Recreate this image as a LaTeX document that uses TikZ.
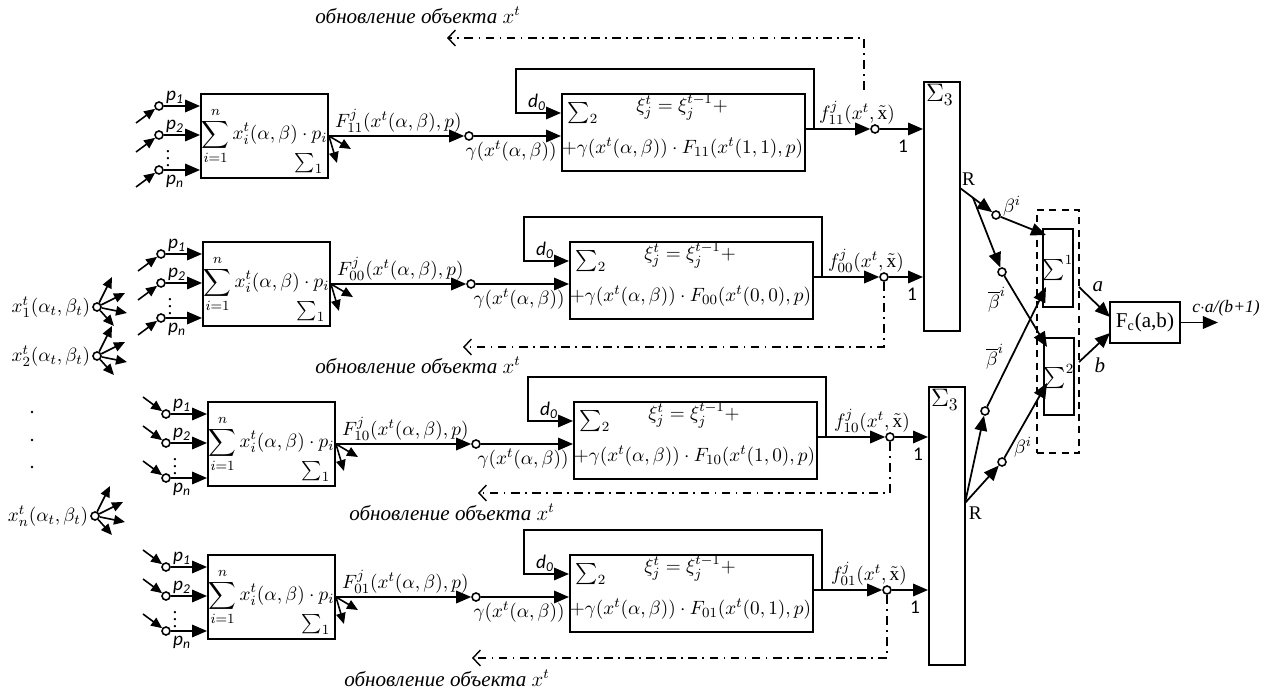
\documentclass[tikz,border=0pt]{standalone}
\usepackage{amsmath}
\usepackage{fontspec}
\setmainfont{Liberation Serif}
\newfontfamily\calib{Carlito}
\usetikzlibrary{arrows.meta, positioning, calc}

\tikzset{
  blk/.style={draw, line width=1.1pt, inner sep=0pt},
  jn/.style={circle, draw, fill=white, line width=0.9pt, minimum size=1.6mm, inner sep=0pt},
  arr/.style={-{Triangle[length=3mm,width=2.5mm]}, line width=1pt},
  sarr/.style={-{Triangle[length=2.2mm,width=1.9mm]}, line width=0.9pt},
  upd/.style={line width=0.8pt, dash pattern=on 5pt off 3pt on 1pt off 3pt, -{Straight Barb[length=1.5mm,width=3.2mm]}},
  grp/.style={draw, line width=1pt, dash pattern=on 4pt off 3pt, inner sep=0pt},
  note/.style={font=\large\itshape, inner sep=1pt},
}

\begin{document}
\begin{tikzpicture}[x=0.02cm, y=-0.02cm, font=\fontsize{11}{13}\selectfont]
  \useasboundingbox (0,0) rectangle (1272,689);

  % --- Sigma_3 collectors ---
  \node[blk, minimum width=0.72cm, minimum height=4.98cm] (s3a) at (942,206.5) {};
  \node[blk, minimum width=0.72cm, minimum height=5.56cm] (s3b) at (947,526) {};
  \node[anchor=north west, inner sep=1.5pt] (s3al) at (s3a.north west) {\Large$\Sigma_3$};
  \node[anchor=north west, inner sep=1.5pt] (s3bl) at (s3b.north west) {\Large$\Sigma_3$};

  % --- Sources x_k^t ---
  \foreach \k/\sub/\xx/\yy in {1/1/97/307, 2/2/97/356, 3/n/95/516} {
    \node[jn] (src\k) at (\xx,\yy) {};
    \node[anchor=east, inner sep=1pt] (srcl\k) at (src\k.west) {$x_{\sub}^{t}(\alpha_t,\beta_t)$};
    \foreach \ex/\ey in {15/-30, 28/-14, 30/6, 17/19}
      \draw[sarr] (src\k) -- ++(\ex,\ey);
  }
  \foreach \yy in {412,440,467}
    \fill (32,\yy) circle (0.8pt);

  % --- Four channels ---
  \foreach \r/\xa/\xb/\ty/\xc/\ix/\cc/\sd/\tgt/\dd/\dx/\tx/\tyy in {
      1/201/561/93/875/11/{1,1}/1/s3a/38/447/418/15,
      2/203/569/241/884/00/{0,0}/1/s3a/347/463/418/365,
      3/208/573/401/890/10/{1,0}/-1/s3b/493/478/452/512,
      4/208/569/554/887/01/{0,1}/-1/s3b/658/472/447/678} {
    % Sigma_1 block
    \node[blk, minimum width=2.54cm, minimum height=1.68cm] (sa\r) at (\xa+63.5,\ty+43)
      {$\displaystyle\sum\limits_{i=1}^{n} x_i^t(\alpha,\beta)\cdot p_i$};
    \node[anchor=south east, inner sep=3pt] (sl\r) at (sa\r.south east) {$\sum\nolimits_1$};
    \foreach \q/\qq/\ps/\ly in {1/13/1/-9, 2/42/2/-9, 3/77/n/11} {
      \node[jn] (in\r\q) at (\xa-42,\ty+\qq) {};
      \draw[arr] (in\r\q) -- (in\r\q -| sa\r.west);
      \draw[sarr] (in\r\q) ++(-23,{17*\sd}) -- (in\r\q);
      \node[inner sep=0pt] (pl\r\q) at ($(in\r\q)+(16,\ly)$) {\calib\itshape p\textsubscript{\ps}};
    }
    \node[inner sep=0pt] (vd\r) at (\xa-33,\ty+60) {$\vdots$};
    \draw[sarr] (sa\r.east) -- ++(22,13);
    \draw[sarr] (sa\r.east) -- ++(8,27);
    % to Sigma_2
    \node[jn] (m\r) at (\xa+268,\ty+43) {};
    \draw[arr] (sa\r.east) -- (m\r);
    \node[anchor=south west, inner sep=1pt] (fl\r) at ($(sa\r.east)+(4,-1)$) {$F_{\ix}^{j}(x^t(\alpha,\beta),p)$};
    \node[blk, minimum width=4.86cm, minimum height=1.54cm, anchor=north west] (sb\r) at (\xb,\ty) {};
    \draw[arr] (m\r) -- (m\r -| sb\r.west) node[anchor=north east, inner sep=2pt] (gl\r) {$\gamma(x^t(\alpha,\beta))$};
    \node (sg\r) at (\xb+22,\ty+20) {\large$\sum\nolimits_2$};
    \node (xi\r) at (\xb+121,\ty+14) {$\xi_j^t=\xi_j^{t-1}+$};
    \node (gm\r) at (\xb+121.5,\ty+55) {$+\gamma(x^t(\alpha,\beta))\cdot F_{\ix}(x^t(\cc),p)$};
    % feedback d_0
    \coordinate (o\r) at (\xb+243,\ty+36);
    \coordinate (fb\r) at (\xb+253,\ty+36);
    \coordinate (lt\r) at (\xb-45,\ty-24);
    \coordinate (d\r) at (\xb,\ty+20);
    \draw[arr] (fb\r) |- (lt\r) |- (d\r);
    \node[inner sep=1pt] (dl\r) at (\xb-24,\ty+9) {\calib\itshape d\textsubscript{0}};
    % output to Sigma_3
    \node[jn] (c\r) at (\xc,\ty+36) {};
    \draw[arr] (o\r) -- (c\r);
    \draw[arr] (c\r) -- (c\r -| \tgt.west);
    \node[anchor=south, inner sep=1pt] (ol\r) at (\xc-18,\ty+34) {$f_{\ix}^{j}(x^t,\tilde{\mathrm{x}})$};
    \node[inner sep=0pt] (one\r) at (\xc+28,\ty+53) {\calib 1};
    % object update
    \ifnum\r=1 \coordinate (u\r) at (864,\ty-3); \else \coordinate (u\r) at (c\r.south); \fi
    \coordinate (ue\r) at (\dx,\dd);
    \draw[upd] (u\r) |- (ue\r);
    \node[note] (t\r) at (\tx,\tyy) {обновление объекта $x^t$};
  }

  % --- Splitting into Sigma^1 / Sigma^2 ---
  \coordinate (ra) at (960,188);
  \coordinate (rc) at (965,503);
  \node[anchor=south west, inner sep=1pt] (rla) at (ra) {R};
  \node[anchor=north west, inner sep=2pt] (rlc) at (rc) {R};
  \node[grp, minimum width=0.84cm, minimum height=4.86cm] (grpbox) at (1058,331.5) {};
  \node[blk, minimum width=0.48cm, minimum height=1.56cm] (su1) at (1058,268) {\large$\sum\nolimits^1$};
  \node[blk, minimum width=0.48cm, minimum height=1.54cm] (su2) at (1059,376.5) {\large$\sum\nolimits^2$};
  \node[jn] (b1) at (996,215) {};
  \node[jn] (b2) at (1002,272) {};
  \node[jn] (b3) at (985,411) {};
  \node[jn] (b4) at (1002,462) {};
  \coordinate (rb) at ($(ra)!0.36!(b1)$);
  \coordinate (e1) at (1046,235);
  \coordinate (e2) at (1046,287);
  \coordinate (e3) at (1047,347);
  \coordinate (e4) at (1047,383);
  \draw[arr] (ra) -- (b1);
  \draw[arr] (b1) -- (e1);
  \draw[arr] (rb) -- (b2);
  \draw[arr] (b2) -- (e3);
  \draw[arr] (rc) -- (b3);
  \draw[arr] (b3) -- (e2);
  \draw[arr] (rc) -- (b4);
  \draw[arr] (b4) -- (e4);
  \node (lb1) at (1012,206) {$\beta^i$};
  \node (lb2) at (997,300) {$\overline{\beta}^i$};
  \node (lb3) at (995,357) {$\overline{\beta}^i$};
  \node (lb4) at (1023,447) {$\beta^i$};

  % --- F_c ---
  \node[blk, minimum width=1.4cm, minimum height=0.82cm, font=\large] (fc) at (1145,322.5) {F\textsubscript{c}(a,b)};
  \coordinate (ga) at (1079,287);
  \coordinate (gb) at (1079,362);
  \coordinate (ina) at (1110,317);
  \coordinate (inb) at (1110,333);
  \draw[arr] (ga) -- (ina);
  \draw[arr] (gb) -- (inb);
  \node[note] (la) at (1098,287) {a};
  \node[note] (lbb) at (1100,365) {b};
  \draw[arr] (fc.east) -- ++(37,0) coordinate (cout);
  \node[font=\itshape, inner sep=1pt] (coutl) at (1226,308) {c$\cdot$a/(b+1)};
\end{tikzpicture}
\end{document}
